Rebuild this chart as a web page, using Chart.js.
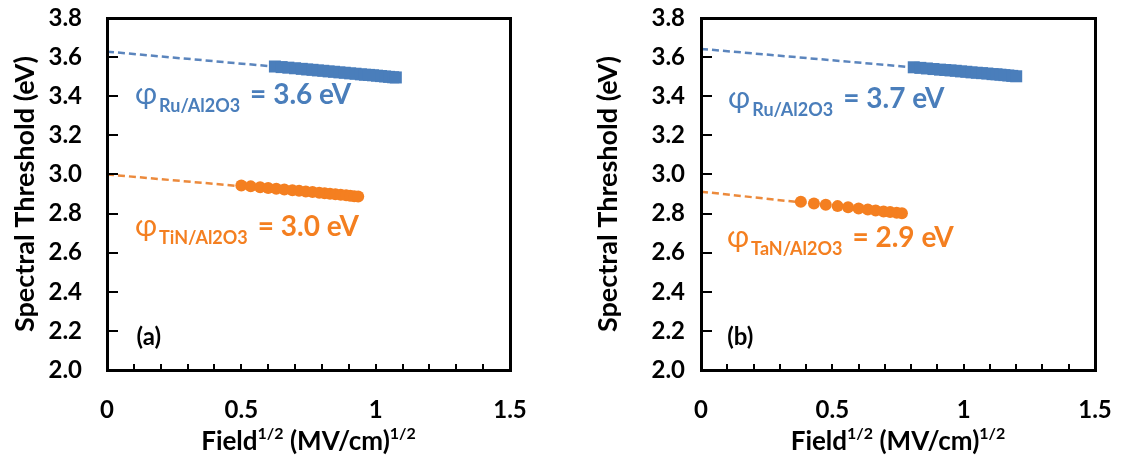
<!DOCTYPE html>
<html>
<head>
<meta charset="utf-8">
<script src="https://cdn.jsdelivr.net/npm/chart.js@4.4.0/dist/chart.umd.min.js"></script>
<style>
  body { margin: 0; background: #fff; }
  canvas { position: absolute; top: 0; }
  #chartA { left: 0; }
  #chartB { left: 590px; }
</style>
</head>
<body>
<canvas id="chartA" width="560" height="461"></canvas>
<canvas id="chartB" width="531" height="461"></canvas>
<script>
// panel (a): Ru and TiN
var fieldRuA = [0.625, 0.65, 0.675, 0.70, 0.725, 0.745, 0.765, 0.785, 0.805, 0.825, 0.845, 0.865, 0.885, 0.905, 0.925, 0.945, 0.96, 0.975, 0.99, 1.005, 1.02, 1.035, 1.05, 1.065, 1.075];
var thrRuA   = [3.552, 3.549, 3.546, 3.543, 3.540, 3.537, 3.535, 3.532, 3.530, 3.527, 3.525, 3.522, 3.520, 3.517, 3.515, 3.512, 3.510, 3.509, 3.507, 3.505, 3.503, 3.501, 3.499, 3.497, 3.496];
var fieldTiN = [0.50, 0.535, 0.57, 0.60, 0.63, 0.66, 0.69, 0.715, 0.74, 0.765, 0.79, 0.81, 0.83, 0.85, 0.87, 0.89, 0.905, 0.92, 0.935];
var thrTiN   = [2.944, 2.939, 2.935, 2.931, 2.927, 2.923, 2.919, 2.916, 2.913, 2.910, 2.906, 2.904, 2.901, 2.899, 2.896, 2.893, 2.891, 2.889, 2.887];
var fitRuAx = [0, 1.075], fitRuAy = [3.628, 3.496];
var fitTiNx = [0, 0.935], fitTiNy = [3.0, 2.887];

// panel (b): Ru and TaN
var fieldRuB = [0.81, 0.835, 0.86, 0.885, 0.91, 0.93, 0.95, 0.97, 0.99, 1.01, 1.03, 1.05, 1.07, 1.09, 1.11, 1.125, 1.14, 1.155, 1.17, 1.185, 1.20];
var thrRuB   = [3.548, 3.545, 3.542, 3.539, 3.536, 3.534, 3.532, 3.530, 3.527, 3.525, 3.522, 3.520, 3.518, 3.516, 3.513, 3.512, 3.510, 3.508, 3.506, 3.504, 3.502];
var fieldTaN = [0.38, 0.43, 0.475, 0.52, 0.56, 0.60, 0.635, 0.665, 0.695, 0.72, 0.745, 0.765];
var thrTaN   = [2.860, 2.852, 2.845, 2.838, 2.832, 2.826, 2.821, 2.816, 2.811, 2.808, 2.804, 2.801];
var fitRuBx = [0, 1.20], fitRuBy = [3.642, 3.502];
var fitTaNx = [0, 0.765], fitTaNy = [2.912, 2.801];

// x ticks every 0.1, labels only on the 0.5 steps
var xMinorTicks = [0, 0.1, 0.2, 0.3, 0.4, 0.5, 0.6, 0.7, 0.8, 0.9, 1.0, 1.1, 1.2, 1.3, 1.4, 1.5];
var xLabelTicks = ['0', '0.5', '1', '1.5'];
var yMin = 2.0, yMax = 3.8;

var BLUE = '#4a7ebb';
var ORANGE = '#f47f20';
var AXIS = '#000';
var FONT = 'Lato, "Open Sans", sans-serif';

function toPoints(xs, ys) {
  return xs.map((x, i) => ({ x: x, y: ys[i] }));
}

function drawPhi(ctx, x, y, sub, value, color) {
  ctx.fillStyle = color;
  ctx.textAlign = 'left';
  ctx.textBaseline = 'alphabetic';
  ctx.font = '30px ' + FONT;
  ctx.fillText('φ', x, y);
  var w = ctx.measureText('φ').width;
  ctx.font = 'bold 18px ' + FONT;
  ctx.fillText(sub, x + w + 2, y + 8);
  var w2 = ctx.measureText(sub).width;
  ctx.font = 'bold 28px ' + FONT;
  ctx.fillText('= ' + value + ' eV', x + w + w2 + 12, y);
}

// plot frame, inward ticks, x title with superscripts, letter and phi labels
var panelDecor = {
  id: 'panelDecor',
  afterDraw(chart, args, opts) {
    var ctx = chart.ctx, a = chart.chartArea;
    var xs = chart.scales.x, ys = chart.scales.y;
    ctx.save();
    ctx.fillStyle = AXIS;
    ctx.fillRect(a.left - 1, a.top - 1, a.right - a.left + 3, 3);
    ctx.fillRect(a.left - 1, a.bottom - 1, a.right - a.left + 3, 3);
    ctx.fillRect(a.left - 1, a.top - 1, 3, a.bottom - a.top + 3);
    ctx.fillRect(a.right - 1, a.top - 1, 3, a.bottom - a.top + 3);
    ys.ticks.forEach(t => {
      ctx.fillRect(a.left, Math.round(ys.getPixelForValue(t.value)) - 1, 11, 2);
    });
    xMinorTicks.forEach(v => {
      ctx.fillRect(Math.round(xs.getPixelForValue(v)) - 1, a.bottom - 6, 2, 6);
    });

    ctx.fillStyle = '#000';
    var parts = [['Field', 26, 0], ['1/2', 16, -11], [' (MV/cm)', 26, 0], ['1/2', 16, -11]];
    var total = 0;
    parts.forEach(p => { ctx.font = 'bold ' + p[1] + 'px ' + FONT; total += ctx.measureText(p[0]).width; });
    var cx = (a.left + a.right) / 2 - total / 2;
    ctx.textAlign = 'left';
    ctx.textBaseline = 'alphabetic';
    parts.forEach(p => {
      ctx.font = 'bold ' + p[1] + 'px ' + FONT;
      ctx.fillText(p[0], cx, 450 + p[2]);
      cx += ctx.measureText(p[0]).width;
    });

    ctx.font = 'bold 24px ' + FONT;
    ctx.fillText(opts.letter, xs.getPixelForValue(opts.letterAt[0]), ys.getPixelForValue(opts.letterAt[1]));

    opts.labels.forEach(l => {
      drawPhi(ctx, xs.getPixelForValue(l.at[0]), ys.getPixelForValue(l.at[1]), l.sub, l.value, l.color);
    });
    ctx.restore();
  }
};

function buildPanel(id, cfg) {
  var tickFont = { family: FONT, weight: 'bold', size: 24 };
  return new Chart(document.getElementById(id), {
    type: 'scatter',
    data: {
      datasets: [
        { data: toPoints(cfg.ruX, cfg.ruY), pointStyle: 'rect', pointRadius: 8.5, backgroundColor: BLUE, borderWidth: 0, order: 1 },
        { data: toPoints(cfg.mX, cfg.mY), pointStyle: 'circle', pointRadius: 6, backgroundColor: ORANGE, borderWidth: 0, order: 1 },
        { data: toPoints(cfg.fitRuX, cfg.fitRuY), showLine: true, borderColor: '#5b85bd', borderWidth: 2.5, borderDash: [7, 4], pointRadius: 0, order: 2 },
        { data: toPoints(cfg.fitMX, cfg.fitMY), showLine: true, borderColor: '#ec8a3c', borderWidth: 2.5, borderDash: [7, 4], pointRadius: 0, order: 2 }
      ]
    },
    options: {
      responsive: false,
      animation: false,
      layout: { padding: { top: 18, right: cfg.padRight, left: 0, bottom: 0 } },
      plugins: {
        legend: { display: false },
        tooltip: { enabled: false },
        panelDecor: { letter: cfg.letter, letterAt: cfg.letterAt, labels: cfg.labels }
      },
      scales: {
        x: {
          type: 'linear', min: 0, max: 1.5,
          afterBuildTicks: s => { s.ticks = xMinorTicks.map(v => ({ value: v })); },
          ticks: {
            color: '#000', font: tickFont, padding: 26, maxRotation: 0, autoSkip: false,
            callback: (v, i) => (i % 5 === 0 ? xLabelTicks[i / 5] : '')
          },
          grid: { display: false, drawTicks: false },
          border: { display: false },
          afterFit: s => { s.height = 91; s.paddingLeft = 0; s.paddingRight = 0; }
        },
        y: {
          min: yMin, max: yMax,
          ticks: { stepSize: 0.2, color: '#000', font: tickFont, padding: cfg.yPad, callback: v => v.toFixed(1) },
          grid: { display: false, drawTicks: false },
          border: { display: false },
          title: { display: true, text: 'Spectral Threshold (eV)', color: '#000', font: { family: FONT, weight: 'bold', size: 27 }, padding: { top: cfg.titlePad } },
          afterFit: s => { s.width = cfg.yWidth; s.paddingTop = 0; s.paddingBottom = 0; }
        }
      }
    },
    plugins: [panelDecor]
  });
}

buildPanel('chartA', {
  ruX: fieldRuA, ruY: thrRuA, mX: fieldTiN, mY: thrTiN,
  fitRuX: fitRuAx, fitRuY: fitRuAy, fitMX: fitTiNx, fitMY: fitTiNy,
  padRight: 50, yWidth: 107, yPad: 25, titlePad: 9,
  letter: '(a)', letterAt: [0.11, 2.13],
  labels: [
    { at: [0.104, 3.36], sub: 'Ru/Al2O3', value: '3.6', color: BLUE },
    { at: [0.104, 2.685], sub: 'TiN/Al2O3', value: '3.0', color: ORANGE }
  ]
});

buildPanel('chartB', {
  ruX: fieldRuB, ruY: thrRuB, mX: fieldTaN, mY: thrTaN,
  fitRuX: fitRuBx, fitRuY: fitRuBy, fitMX: fitTaNx, fitMY: fitTaNy,
  padRight: 26, yWidth: 111, yPad: 16, titlePad: 2,
  letter: '(b)', letterAt: [0.10, 2.13],
  labels: [
    { at: [0.103, 3.34], sub: 'Ru/Al2O3', value: '3.7', color: BLUE },
    { at: [0.099, 2.63], sub: 'TaN/Al2O3', value: '2.9', color: ORANGE }
  ]
});
</script>
</body>
</html>
